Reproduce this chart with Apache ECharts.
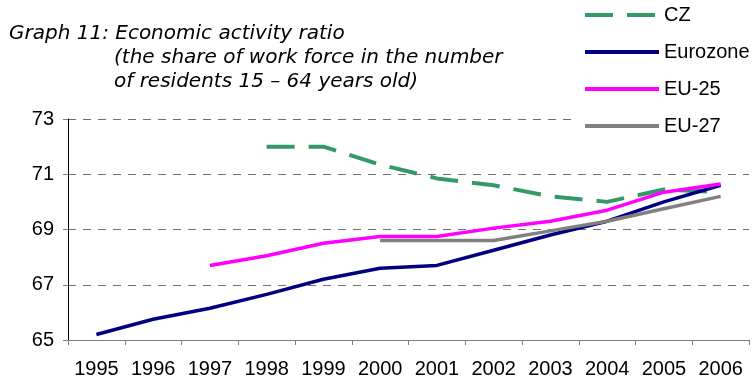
<!DOCTYPE html>
<html>
<head>
<meta charset="utf-8">
<script src="https://cdn.jsdelivr.net/npm/echarts@6/dist/echarts.min.js"></script>
<style>
html, body { margin: 0; padding: 0; background: #fff; }
#chart { width: 754px; height: 383px; }
</style>
</head>
<body>
<div id="chart"></div>
<script>
// Economic activity ratio, % of residents aged 15-64
const years = ['1995', '1996', '1997', '1998', '1999', '2000', '2001', '2002', '2003', '2004', '2005', '2006'];
const cz       = [null, null, null, 72.0, 72.0, 71.35, 70.85, 70.6, 70.2, 70.0, 70.45, 70.35];
const eurozone = [65.2, 65.75, 66.15, 66.65, 67.2, 67.6, 67.7, 68.25, 68.8, 69.3, 70.0, 70.6];
const eu25     = [null, null, 67.7, 68.05, 68.5, 68.75, 68.75, 69.05, 69.3, 69.7, 70.35, 70.65];
const eu27     = [null, null, null, null, null, 68.6, 68.6, 68.6, 68.95, 69.3, 69.75, 70.2];
const yMin = 65, yMax = 73, yStep = 2;

const titleLines = [
  { text: 'Graph 11: Economic activity ratio', left: 9, top: 24 },
  { text: '(the share of work force in the number', left: 114, top: 48 },
  { text: 'of residents 15 \u2013 64 years old)', left: 114, top: 72 }
];

const labelFont = 'Liberation Sans, Arial, sans-serif';
const czDash = [28, 14];

const chart = echarts.init(document.getElementById('chart'), null, { renderer: 'canvas' });

function lineSeries(name, data, color, width, type) {
  return {
    name: name,
    type: 'line',
    data: data,
    symbol: 'none',
    connectNulls: false,
    animation: false,
    lineStyle: { color: color, width: width, type: type || 'solid', cap: 'butt', join: 'round' },
    itemStyle: { color: color }
  };
}

chart.setOption({
  animation: false,
  backgroundColor: '#fff',
  title: titleLines.map(t => ({
    text: t.text,
    left: t.left,
    top: t.top,
    padding: 0,
    textStyle: {
      fontFamily: 'DejaVu Sans, Verdana, sans-serif',
      fontStyle: 'italic',
      fontWeight: 'normal',
      fontSize: 20,
      color: '#000'
    }
  })),
  legend: {
    orient: 'vertical',
    left: 575,
    top: 0,
    padding: [5, 8, 10, 8],
    backgroundColor: '#fff',
    itemWidth: 74,
    itemHeight: 14,
    itemGap: 17,
    itemStyle: { opacity: 0 },
    lineStyle: { width: 4 },
    textStyle: { fontFamily: labelFont, fontSize: 20, color: '#000' },
    data: [
      { name: 'CZ', lineStyle: { type: czDash, width: 4 } },
      { name: 'Eurozone' },
      { name: 'EU-25' },
      { name: 'EU-27' }
    ]
  },
  grid: { left: 68, right: 5, top: 119, bottom: 43, containLabel: false },
  xAxis: {
    type: 'category',
    data: years,
    boundaryGap: true,
    axisLine: { lineStyle: { color: '#808080', width: 1 } },
    axisTick: { show: true, length: 5, lineStyle: { color: '#808080' } },
    axisLabel: { interval: 0, fontFamily: labelFont, fontSize: 20, color: '#000', margin: 19 }
  },
  yAxis: {
    type: 'value',
    min: yMin,
    max: yMax,
    interval: yStep,
    axisLine: { show: true, lineStyle: { color: '#000', width: 1 } },
    axisTick: { show: true, length: 5, lineStyle: { color: '#808080' } },
    axisLabel: { fontFamily: labelFont, fontSize: 20, color: '#000', margin: 14 },
    splitLine: { show: true, lineStyle: { color: '#707070', width: 1, type: [8, 7] } }
  },
  series: [
    lineSeries('CZ', cz, '#339966', 4, czDash),
    lineSeries('Eurozone', eurozone, '#000080', 3.5),
    lineSeries('EU-25', eu25, '#ff00ff', 3.5),
    lineSeries('EU-27', eu27, '#808080', 3.5)
  ]
});
</script>
</body>
</html>
